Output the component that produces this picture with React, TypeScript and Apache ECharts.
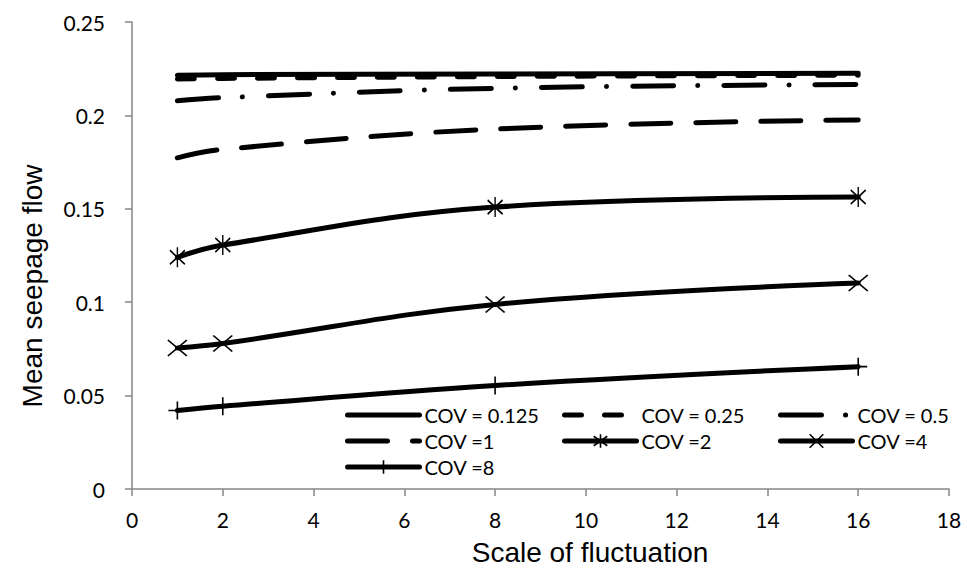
import React, { useEffect, useRef } from "react";
import * as echarts from "echarts";

// ---- data ----
const xValues = [1, 2, 8, 16];
const seriesNames = ["COV = 0.125", "COV = 0.25", "COV = 0.5", "COV =1", "COV =2", "COV =4", "COV =8"];
const cov0125 = [0.2215, 0.2218, 0.2222, 0.2225];
const cov025 = [0.2195, 0.2198, 0.2208, 0.2215];
const cov05 = [0.2078, 0.2095, 0.2145, 0.2165];
const cov1 = [0.1773, 0.1818, 0.1927, 0.1976];
const cov2 = [0.124, 0.1306, 0.1509, 0.1563];
const cov4 = [0.0755, 0.0779, 0.0988, 0.1103];
const cov8 = [0.042, 0.0443, 0.0554, 0.0655];
const xAxisMin = 0;
const xAxisMax = 18;
const xAxisStep = 2;
const yAxisMin = 0;
const yAxisMax = 0.25;
const yAxisStep = 0.05;
const xAxisTitle = "Scale of fluctuation";
const yAxisTitle = "Mean seepage flow";

const seriesValues = [cov0125, cov025, cov05, cov1, cov2, cov4, cov8];

// ---- styles ----
const STAR = "path://M5,0L5,10M0,1.5L10,8.5M10,1.5L0,8.5";
const CROSS = "path://M0,0L10,10M10,0L0,10";
const PLUS = "path://M5,0L5,10M0,5L10,5";

const lineTypes: any[] = ["solid", [17, 23], [41, 24, 0.1, 26], [40, 25], "solid", "solid", "solid"];
const symbols = ["none", "none", "none", "none", STAR, CROSS, PLUS];
const symbolSizes: any[] = [0, 0, 0, 0, [15, 20], [19, 16], [18, 18]];
// legend grid: cell position of each series (column, row)
const legendCols = [0, 1, 2, 0, 1, 2, 0];
const legendRowsIdx = [0, 0, 0, 1, 1, 1, 2];
const legendColLefts = [340, 557, 773];
const legendRowTops = [400, 426, 452];

const AXIS_GREY = "#868686";
const TICK_FONT = "Lato, 'Open Sans', sans-serif";
const TITLE_FONT = "'Liberation Sans', Arial, sans-serif";

export default function App() {
  const ref = useRef<HTMLDivElement>(null);

  useEffect(() => {
    if (!ref.current) return;
    const chart = echarts.init(ref.current, undefined, { renderer: "svg" });

    const series = seriesNames.map((name, i) => ({
      name,
      type: "line",
      data: xValues.map((x, j) => [x, seriesValues[i][j]]),
      smooth: 0.4,
      symbol: symbols[i],
      symbolSize: symbolSizes[i],
      showSymbol: symbols[i] !== "none",
      lineStyle: { color: "#000", width: 5, type: lineTypes[i], cap: "round", join: "round" },
      itemStyle: { color: "#000", borderColor: "#000", borderWidth: 1.6 },
      emphasis: { disabled: true },
      silent: true,
      z: 2 + (seriesNames.length - i),
    }));

    const legend = seriesNames.map((name, i) => ({
      left: legendColLefts[legendCols[i]],
      top: legendRowTops[legendRowsIdx[i]],
      orient: "horizontal",
      itemWidth: 72,
      itemHeight: 17,
      selectedMode: false,
      data: [
        {
          name,
          itemStyle: symbols[i] === "none" ? { opacity: 0 } : { borderWidth: 1.6 },
        },
      ],
      lineStyle: { width: 5 },
      textStyle: { fontFamily: TICK_FONT, fontSize: 20, color: "#000" },
    }));

    chart.setOption({
      animation: false,
      backgroundColor: "#fff",
      grid: { left: 132, right: 18, top: 22, bottom: 90 },
      legend,
      graphic: [
        {
          type: "text",
          x: 590,
          y: 552,
          silent: true,
          style: {
            text: xAxisTitle,
            fontFamily: TITLE_FONT,
            fontSize: 28,
            fill: "#000",
            align: "center",
            verticalAlign: "middle",
          },
        },
        {
          type: "text",
          x: 32,
          y: 286,
          rotation: Math.PI / 2,
          silent: true,
          style: {
            text: yAxisTitle,
            fontFamily: TITLE_FONT,
            fontSize: 28,
            fill: "#000",
            align: "center",
            verticalAlign: "middle",
          },
        },
      ],
      xAxis: {
        type: "value",
        min: xAxisMin,
        max: xAxisMax,
        interval: xAxisStep,
        axisLine: { show: true, lineStyle: { color: AXIS_GREY, width: 1.5 } },
        axisTick: { show: true, length: 7, lineStyle: { color: AXIS_GREY, width: 1.5 } },
        splitLine: { show: false },
        axisLabel: { fontFamily: TICK_FONT, fontSize: 21, color: "#000", margin: 20 },
      },
      yAxis: {
        type: "value",
        min: yAxisMin,
        max: yAxisMax,
        interval: yAxisStep,
        axisLine: { show: true, lineStyle: { color: AXIS_GREY, width: 1.5 } },
        axisTick: { show: true, length: 7, lineStyle: { color: AXIS_GREY, width: 1.5 } },
        splitLine: { show: false },
        axisLabel: { fontFamily: TICK_FONT, fontSize: 21, color: "#000", margin: 27 },
      },
      series,
    });

    return () => chart.dispose();
  }, []);

  return (
    <div
      ref={ref}
      style={{ position: "absolute", left: 0, top: 0, width: 967, height: 579 }}
    />
  );
}
